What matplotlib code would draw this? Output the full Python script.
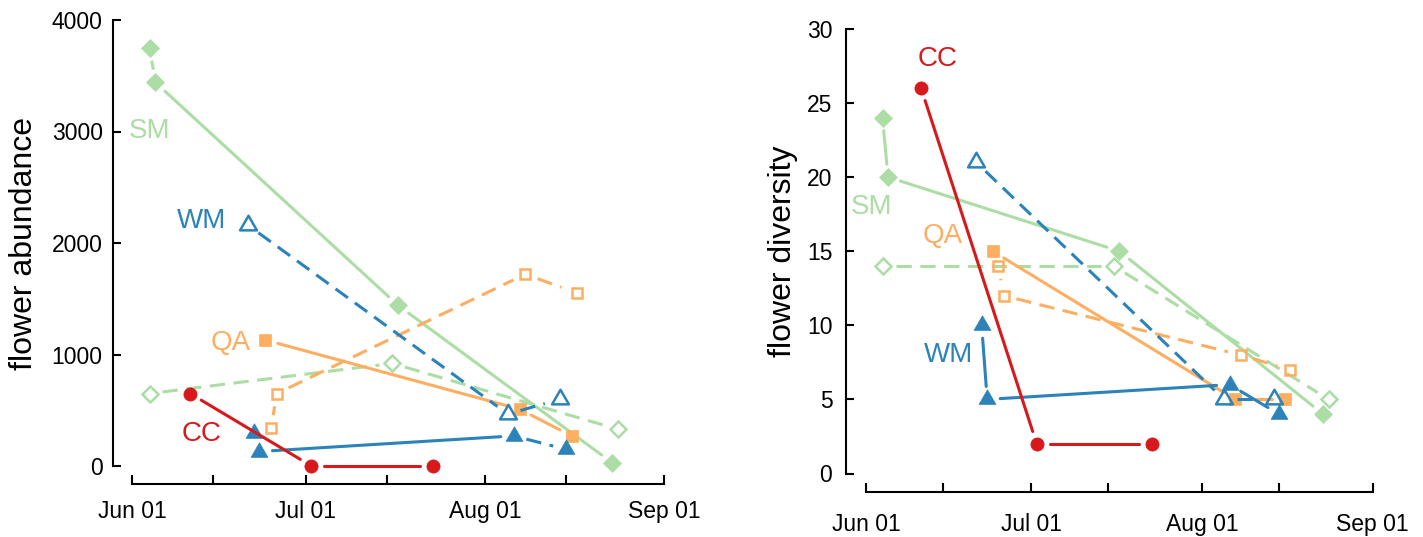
import numpy as np
import matplotlib
matplotlib.use('Agg')
import matplotlib.pyplot as plt
import matplotlib.dates as mdates
from matplotlib.path import Path

plt.rcParams['font.family'] = ['Liberation Sans', 'DejaVu Sans']

# site colours (ColorBrewer Spectral)
RED = '#d7191c'
ORANGE = '#fdae61'
GREEN = '#abdda4'
BLUE = '#2b83ba'

# sampling dates and values per site, _f = filled symbols, _o = open symbols
sm_f_dates = ['2014-06-04', '2014-06-05', '2014-07-17', '2014-08-23']
sm_f_abund = [3750, 3440, 1440, 30]
sm_f_div = [24, 20, 15, 4]

sm_o_dates = ['2014-06-04', '2014-07-16', '2014-08-24']
sm_o_abund = [650, 920, 330]
sm_o_div = [14, 14, 5]

cc_dates = ['2014-06-11', '2014-07-02', '2014-07-23']
cc_abund = [650, 0, 0]
cc_div = [26, 2, 2]

wm_o_dates = ['2014-06-21', '2014-08-05', '2014-08-14']
wm_o_abund = [2160, 465, 600]
wm_o_div = [21, 5, 5]

wm_f_dates = ['2014-06-22', '2014-06-23', '2014-08-06', '2014-08-15']
wm_f_abund = [295, 130, 270, 150]
wm_f_div = [10, 5, 6, 4]

qa_f_dates = ['2014-06-24', '2014-08-07', '2014-08-16']
qa_f_abund = [1130, 510, 270]
qa_f_div = [15, 5, 5]

qa_o_dates = ['2014-06-25', '2014-06-26', '2014-08-08', '2014-08-17']
qa_o_abund = [340, 650, 1720, 1550]
qa_o_div = [14, 12, 8, 7]

site_names = ['SM', 'WM', 'QA', 'CC']
site_colors = [GREEN, BLUE, ORANGE, RED]

# line type of every segment between consecutive samples
DASH = (0, (5, 2.8))
DASHDOT = (0, (5, 2.8, 0.5, 2.8))
DOT = (0, (0.5, 2.8))
SOLID = '-'

# R style triangle (point sits at the centroid)
TRI = Path([(0, 1.555), (1.347, -0.778), (-1.347, -0.778), (0, 1.555)],
           [Path.MOVETO, Path.LINETO, Path.LINETO, Path.CLOSEPOLY])

LW = 2.2
GAP = 13.0   # px left free around each symbol

fig = plt.figure(figsize=(14.23, 5.37), dpi=100)
W, H = 1423.0, 537.0

def to_num(d):
    return mdates.datestr2num(d)

jun1 = to_num('2014-06-01')

def make_axes(left, right, top, bottom, x0, ppd, y0, ppv):
    # left/right/top/bottom in pixels, x0 = pixel of Jun 01, ppd = px per day,
    # y0 = pixel of value 0, ppv = px per unit
    ax = fig.add_axes([left / W, 1 - bottom / H, (right - left) / W, (bottom - top) / H])
    ax.set_xlim(jun1 + (left - x0) / ppd, jun1 + (right - x0) / ppd)
    ax.set_ylim((y0 - bottom) / ppv, (y0 - top) / ppv)
    return ax

ax1 = make_axes(112.7, 700, 10, 484, 132.3, 5.78, 466, 0.1115)
ax2 = make_axes(845.7, 1420, 10, 491.7, 866, 5.508, 473.5, 14.82)

def draw_series(ax, dates, vals, styles, color, marker, ms, filled):
    x = np.array([to_num(d) for d in dates])
    y = np.array(vals, dtype=float)
    pts = ax.transData.transform(np.column_stack([x, y]))
    inv = ax.transData.inverted()
    for i, ls in enumerate(styles):
        if ls is None:
            continue
        p0, p1 = pts[i], pts[i + 1]
        d = np.hypot(*(p1 - p0))
        if d <= 2 * GAP:
            continue
        u = (p1 - p0) / d
        seg = inv.transform(np.array([p0 + u * GAP, p1 - u * GAP]))
        ax.plot(seg[:, 0], seg[:, 1], color=color, lw=LW, linestyle=ls,
                solid_capstyle='round', dash_capstyle='butt')
    if filled:
        ax.plot(x, y, linestyle='none', marker=marker, ms=ms, mfc=color,
                mec=color, mew=0.5)
    else:
        ax.plot(x, y, linestyle='none', marker=marker, ms=ms, mfc='none',
                mec=color, mew=1.8)

def style_axes(ax, ymax, ystep, ypad, xpad):
    for s in ['top', 'right']:
        ax.spines[s].set_visible(False)
    ax.spines['left'].set_bounds(0, ymax)
    ax.spines['bottom'].set_bounds(to_num('2014-06-01'), to_num('2014-09-01'))
    for s in ['left', 'bottom']:
        ax.spines[s].set_linewidth(1.5)
    ax.set_yticks(np.arange(0, ymax + 1, ystep))
    ax.xaxis.set_major_locator(mdates.MonthLocator(bymonthday=1))
    ax.xaxis.set_minor_locator(mdates.MonthLocator(bymonth=[6, 7, 8], bymonthday=15))
    ax.xaxis.set_major_formatter(mdates.DateFormatter('%b %d'))
    ax.set_xticks([to_num(d) for d in ['2014-06-01', '2014-07-01', '2014-08-01', '2014-09-01']])
    ax.tick_params(axis='y', direction='in', length=5.8, width=1.5, pad=ypad, labelsize=16.5)
    ax.tick_params(axis='x', which='both', direction='in', length=6.5, width=1.5,
                   pad=xpad, labelsize=16.5)

panels = [
    (ax1, [sm_f_abund, sm_o_abund, cc_abund, wm_o_abund, wm_f_abund, qa_f_abund, qa_o_abund],
     {'sm_f': [DASH, SOLID, SOLID], 'sm_o': [DASH, DASH], 'cc': [SOLID, SOLID],
      'wm_o': [DASH, DASHDOT], 'wm_f': [SOLID, SOLID, DASH],
      'qa_f': [SOLID, SOLID], 'qa_o': [DASH, DASH, DASHDOT]}),
    (ax2, [sm_f_div, sm_o_div, cc_div, wm_o_div, wm_f_div, qa_f_div, qa_o_div],
     {'sm_f': [SOLID, SOLID, SOLID], 'sm_o': [DASH, DASH], 'cc': [SOLID, SOLID],
      'wm_o': [DASH, DASHDOT], 'wm_f': [SOLID, SOLID, SOLID],
      'qa_f': [SOLID, SOLID], 'qa_o': [DOT, DASH, DASHDOT]}),
]

for ax, vals, styles in panels:
    sm_f, sm_o, cc, wm_o, wm_f, qa_f, qa_o = vals
    draw_series(ax, sm_o_dates, sm_o, styles['sm_o'], GREEN, 'D', 8.5, False)
    draw_series(ax, sm_f_dates, sm_f, styles['sm_f'], GREEN, 'D', 9.5, True)
    draw_series(ax, qa_o_dates, qa_o, styles['qa_o'], ORANGE, 's', 6.5, False)
    draw_series(ax, qa_f_dates, qa_f, styles['qa_f'], ORANGE, 's', 8, True)
    draw_series(ax, wm_o_dates, wm_o, styles['wm_o'], BLUE, TRI, 14, False)
    draw_series(ax, wm_f_dates, wm_f, styles['wm_f'], BLUE, TRI, 14, True)
    draw_series(ax, cc_dates, cc, styles['cc'], RED, 'o', 9.5, True)

# site name labels
label_pos_1 = [('2014-06-04', 3000), ('2014-06-13', 2200), ('2014-06-18', 1100), ('2014-06-13', 290)]
label_pos_2 = [('2014-06-02', 18), ('2014-06-16', 8), ('2014-06-15', 16), ('2014-06-14', 28)]
for ax, pos in [(ax1, label_pos_1), (ax2, label_pos_2)]:
    for name, col, (d, v) in zip(site_names, site_colors, pos):
        ax.text(to_num(d), v, name, color=col, fontsize=20, ha='center', va='center')

style_axes(ax1, 4000, 1000, 7.2, 11.5)
style_axes(ax2, 30, 5, 9.6, 15.5)

fig.text(23.6 / W, 1 - 244 / H, 'flower abundance', rotation=90, fontsize=23,
         ha='center', va='center')
fig.text(782.7 / W, 1 - 250.9 / H, 'flower diversity', rotation=90, fontsize=23,
         ha='center', va='center')

fig.savefig('out.png', dpi=100)
